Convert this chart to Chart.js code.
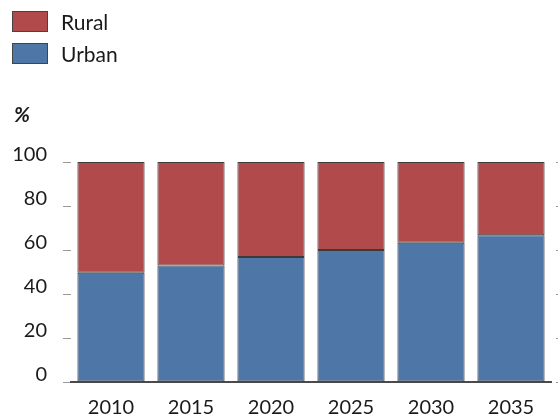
<!DOCTYPE html>
<html>
<head>
<meta charset="utf-8">
<script src="https://cdn.jsdelivr.net/npm/chart.js@4/dist/chart.umd.min.js"></script>
<style>
  body { margin: 0; background: #fff; }
  #wrap { position: relative; width: 558px; height: 418px; font-family: Lato, "Open Sans", sans-serif; color: #1a1a1a; }
  #legend { position: absolute; left: 12px; top: 5px; }
  .item { display: flex; align-items: center; height: 32px; font-size: 21px; }
  .box { width: 34px; height: 19px; border: 1px solid #444; margin-right: 13px; }
</style>
</head>
<body>
<div id="wrap">
  <canvas id="chart" width="558" height="418"></canvas>
  <div id="legend"></div>
</div>
<script>
// data
const years = ['2010', '2015', '2020', '2025', '2030', '2035'];
const urban = [49.7, 52.9, 56.8, 60.0, 63.3, 66.7];
const rural = [50.3, 47.1, 43.2, 40.0, 36.7, 33.3];
const yTicks = [0, 20, 40, 60, 80, 100];

const red = '#b04a4b';
const blue = '#4e76a6';
const textColor = '#1a1a1a';

// legend (Rural listed first, as in the picture)
const legendItems = [
  { label: 'Rural', color: red },
  { label: 'Urban', color: blue },
];
const legend = document.getElementById('legend');
legendItems.forEach(it => {
  const row = document.createElement('div');
  row.className = 'item';
  const box = document.createElement('span');
  box.className = 'box';
  box.style.background = it.color;
  row.appendChild(box);
  row.appendChild(document.createTextNode(it.label));
  legend.appendChild(row);
});

// the "%" unit above the y axis
const unitLabel = {
  id: 'unitLabel',
  afterDraw(chart) {
    const ctx = chart.ctx;
    ctx.save();
    ctx.font = 'italic bold 21px Lato';
    ctx.fillStyle = textColor;
    ctx.textBaseline = 'alphabetic';
    ctx.fillText('%', 14, 122);
    ctx.restore();
  }
};

const ctx = document.getElementById('chart').getContext('2d');
new Chart(ctx, {
  type: 'bar',
  data: {
    labels: years,
    datasets: [
      {
        label: 'Urban',
        data: urban,
        backgroundColor: blue,
        borderColor: '#3b3b3b',
        borderWidth: 1,
        borderSkipped: false,
        categoryPercentage: 1,
        barPercentage: 0.84,
      },
      {
        label: 'Rural',
        data: rural,
        backgroundColor: red,
        borderColor: '#3b3b3b',
        borderWidth: 1,
        borderSkipped: false,
        categoryPercentage: 1,
        barPercentage: 0.84,
      },
    ],
  },
  options: {
    responsive: false,
    animation: false,
    layout: { padding: { left: 13, right: 0, top: 162, bottom: 0 } },
    plugins: {
      legend: { display: false },
      tooltip: { enabled: false },
    },
    scales: {
      x: {
        stacked: true,
        afterFit: axis => { axis.height = 36; },
        grid: { display: false, drawTicks: false },
        border: { display: true, color: '#4a4a4a', width: 2 },
        ticks: {
          color: textColor,
          padding: 16,
          maxRotation: 0,
          font: { family: 'Lato', size: 20, lineHeight: 1.0 },
        },
      },
      y: {
        stacked: true,
        min: 0,
        max: 100,
        afterFit: axis => { axis.width = 58; },
        afterBuildTicks: axis => { axis.ticks = yTicks.map(v => ({ value: v })); },
        grid: {
          drawOnChartArea: false,
          tickLength: 19,
          tickColor: '#9a9a9a',
          tickWidth: 1,
          tickBorderDash: [8, 11],
          tickBorderDashOffset: 8,
        },
        border: { display: false },
        ticks: {
          color: textColor,
          padding: 5,
          labelOffset: -7,
          font: { family: 'Lato', size: 20 },
        },
      },
      y2: {
        position: 'right',
        stacked: true,
        min: 0,
        max: 100,
        afterBuildTicks: axis => { axis.ticks = yTicks.map(v => ({ value: v })); },
        grid: {
          drawOnChartArea: false,
          tickLength: 7,
          tickColor: '#9a9a9a',
          tickBorderDash: [3, 5],
          tickBorderDashOffset: 3,
        },
        border: { display: false },
        ticks: { display: false },
      },
    },
  },
  plugins: [unitLabel],
});
</script>
</body>
</html>
